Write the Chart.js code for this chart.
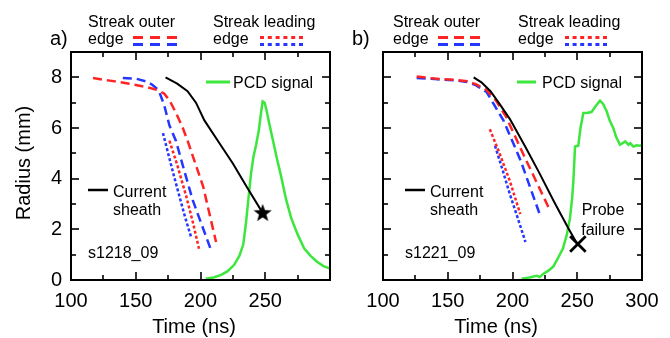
<!DOCTYPE html>
<html>
<head>
<meta charset="utf-8">
<script src="https://cdn.jsdelivr.net/npm/chart.js@4.4.0/dist/chart.umd.min.js"></script>
<style>
  body { margin: 0; background: #fff; }
  canvas { position: absolute; top: 0; }
  #panelA { left: 0; }
  #panelB { left: 335px; }
</style>
</head>
<body>
<canvas id="panelA" width="335" height="338"></canvas>
<canvas id="panelB" width="335" height="338"></canvas>
<script>
// ---- data (time in ns, radius in mm) ----
var xTicksA = [100, 150, 200, 250];
var xTicksB = [100, 150, 200, 250, 300];
var yTicks = [0, 2, 4, 6, 8];

// panel a) s1218_09
var sheathA_t = [173, 182, 190, 196.5, 203, 214, 225, 236, 248];
var sheathA_r = [8.0, 7.75, 7.45, 7.0, 6.3, 5.45, 4.6, 3.65, 2.65];
var outerRedA_t = [117, 130, 145, 158, 168, 172, 176, 181, 186, 190, 194, 202, 212];
var outerRedA_r = [7.97, 7.87, 7.75, 7.62, 7.48, 7.35, 7.1, 6.6, 6.05, 5.5, 4.9, 3.7, 1.5];
var outerBlueA_t = [140, 150, 158, 163, 166, 168.5, 172, 176, 181, 187, 194, 208];
var outerBlueA_r = [7.97, 7.95, 7.84, 7.7, 7.57, 7.38, 6.9, 6.1, 5.5, 4.4, 3.15, 1.2];
var leadRedA_t = [176, 182, 189, 194, 199];
var leadRedA_r = [5.5, 4.55, 3.3, 2.3, 1.2];
var leadBlueA_t = [171, 175, 179, 184, 188, 193];
var leadBlueA_r = [5.8, 5.0, 4.2, 3.25, 2.5, 1.65];
var pcdA_t = [204, 210, 216, 221, 226, 230, 233, 235, 237, 239, 241, 243, 245, 247, 248, 249.5, 251, 253, 256, 259, 262, 266, 270, 275, 280, 285, 290, 295, 300];
var pcdA_r = [0.05, 0.1, 0.2, 0.35, 0.6, 0.95, 1.4, 2.2, 3.2, 4.2, 4.9, 5.35, 5.9, 6.7, 7.05, 7.0, 6.7, 6.2, 5.5, 4.8, 4.15, 3.2, 2.45, 1.8, 1.25, 0.95, 0.72, 0.55, 0.45];
var starA = [248, 2.65];

// panel b) s1221_09
var sheathB_t = [170, 176, 183, 190, 198, 210, 221, 232, 243, 250];
var sheathB_r = [8.0, 7.8, 7.45, 6.95, 6.35, 5.25, 4.2, 3.1, 2.05, 1.42];
var outerRedB_t = [126, 140, 155, 165, 172, 180, 187, 195, 208, 228];
var outerRedB_r = [8.03, 7.95, 7.9, 7.85, 7.72, 7.5, 7.1, 6.45, 5.0, 2.85];
var outerBlueB_t = [126, 140, 155, 165, 172, 180, 186, 193, 206, 221];
var outerBlueB_r = [7.97, 7.93, 7.88, 7.82, 7.68, 7.42, 6.9, 6.3, 4.75, 2.6];
var leadRedB_t = [182.5, 190, 198, 206];
var leadRedB_r = [5.95, 5.0, 3.9, 2.6];
var leadBlueB_t = [186.5, 192, 198, 204, 210];
var leadBlueB_r = [5.3, 4.4, 3.38, 2.45, 1.5];
var pcdB_t = [207, 213, 218.7, 221, 224, 228, 231.5, 235, 239, 242, 244.4, 246, 247, 248.3, 250.8, 252.5, 254.7, 258, 261, 264, 267.6, 270, 272.7, 275, 277.8, 280, 283, 285, 287, 289.5, 291, 293.3, 296, 298, 300];
var pcdB_r = [0.05, 0.1, 0.17, 0.12, 0.25, 0.38, 0.53, 0.85, 1.25, 1.8, 2.44, 3.2, 3.9, 5.27, 5.3, 6.0, 6.59, 6.6, 6.63, 6.85, 7.08, 6.95, 6.66, 6.3, 6.0, 5.65, 5.34, 5.4, 5.47, 5.34, 5.4, 5.27, 5.32, 5.3, 5.32];
var crossB = [250.5, 1.42];

var RED = '#ff2424', BLUE = '#2436ff', GREEN = '#3de63d', BLACK = '#000';
var FONT = "'Liberation Sans', Arial, sans-serif";

Chart.defaults.font.family = FONT;
Chart.defaults.font.size = 20;
Chart.defaults.color = '#000';

function pts(t, r) {
  var out = [];
  for (var i = 0; i < t.length; i++) out.push({x: t[i], y: r[i]});
  return out;
}

// filled five point star for the marker
var starImg = document.createElement('canvas');
starImg.width = 20; starImg.height = 20;
(function () {
  var c = starImg.getContext('2d');
  c.beginPath();
  for (var i = 0; i < 10; i++) {
    var rad = i % 2 === 0 ? 9.5 : 3.9;
    var a = -Math.PI / 2 + i * Math.PI / 5;
    c.lineTo(10 + rad * Math.cos(a), 10.5 + rad * Math.sin(a));
  }
  c.closePath();
  c.fillStyle = '#000';
  c.fill();
})();

// frame, inward ticks and the text annotations
var panelDecor = {
  id: 'panelDecor',
  afterDraw: function (chart) {
    var ctx = chart.ctx, a = chart.chartArea;
    var xs = chart.scales.x, ys = chart.scales.y;
    var p = chart.options.plugins.panelDecor;
    ctx.save();
    ctx.strokeStyle = '#000';
    ctx.lineWidth = 1.6;
    function seg(x1, y1, x2, y2) { ctx.beginPath(); ctx.moveTo(x1, y1); ctx.lineTo(x2, y2); ctx.stroke(); }
    var t, px, len;
    for (t = xs.min + 25; t < xs.max; t += 25) {
      px = Math.round(xs.getPixelForValue(t));
      len = (t % 50 === 0) ? 8 : 5;
      seg(px, a.bottom, px, a.bottom - len);
      seg(px, a.top, px, a.top + len);
    }
    for (t = ys.min + 1; t < ys.max; t += 1) {
      px = Math.round(ys.getPixelForValue(t));
      len = (t % 2 === 0) ? 8 : 5;
      seg(a.left, px, a.left + len, px);
      seg(a.right, px, a.right - len, px);
    }
    ctx.lineWidth = 2;
    ctx.strokeRect(a.left, a.top, a.right - a.left, a.bottom - a.top);

    // legend samples
    p.lines.forEach(function (l) {
      ctx.strokeStyle = l.c;
      ctx.lineWidth = l.w;
      ctx.setLineDash(l.dash || []);
      seg(l.x1, l.y, l.x2, l.y);
    });
    ctx.setLineDash([]);

    ctx.fillStyle = '#000';
    p.texts.forEach(function (s) {
      ctx.font = s.size + 'px ' + FONT;
      ctx.textAlign = s.align || 'left';
      ctx.textBaseline = s.base || 'alphabetic';
      if (s.rot) {
        ctx.save();
        ctx.translate(s.x, s.y);
        ctx.rotate(s.rot);
        ctx.fillText(s.t, 0, 0);
        ctx.restore();
      } else {
        ctx.fillText(s.t, s.x, s.y);
      }
    });
    ctx.restore();
  }
};

function makePanel(id, d) {
  var datasets = [
    {data: pts(d.pcd[0], d.pcd[1]), borderColor: GREEN, borderWidth: 2.5, order: 6},
    {data: pts(d.leadBlue[0], d.leadBlue[1]), borderColor: BLUE, borderWidth: 2.5, borderDash: [3, 2.2], order: 5},
    {data: pts(d.leadRed[0], d.leadRed[1]), borderColor: RED, borderWidth: 2.5, borderDash: [3, 2.2], order: 4},
    {data: pts(d.outerBlue[0], d.outerBlue[1]), borderColor: BLUE, borderWidth: 2.5, borderDash: [9, 5], order: 3},
    {data: pts(d.outerRed[0], d.outerRed[1]), borderColor: RED, borderWidth: 2.5, borderDash: [9, 5], order: 2},
    {data: pts(d.sheath[0], d.sheath[1]), borderColor: BLACK, borderWidth: 2, order: 1},
    {data: [{x: d.marker[0], y: d.marker[1]}], showLine: false, pointStyle: d.markerStyle,
      pointRadius: d.markerRadius, borderColor: BLACK, backgroundColor: BLACK, pointBorderWidth: 2.8, order: 0}
  ];
  datasets.forEach(function (ds) {
    if (ds.showLine !== false) { ds.showLine = true; ds.pointRadius = 0; }
    ds.tension = 0;
  });

  return new Chart(document.getElementById(id), {
    type: 'scatter',
    data: {datasets: datasets},
    options: {
      responsive: false,
      animation: false,
      devicePixelRatio: 1,
      layout: {autoPadding: false, padding: {top: 52, right: d.padRight, left: 0, bottom: 0}},
      plugins: {
        legend: {display: false},
        tooltip: {enabled: false},
        panelDecor: {lines: d.lines, texts: d.texts}
      },
      scales: {
        x: {
          type: 'linear', min: 100, max: 300,
          grid: {display: false, drawTicks: false},
          border: {display: false},
          ticks: {padding: 9, font: {size: 20}, maxRotation: 0},
          afterBuildTicks: function (s) { s.ticks = d.xTicks.map(function (v) { return {value: v}; }); },
          afterFit: function (s) { s.height = 58; s.paddingLeft = 0; s.paddingRight = 0; }
        },
        y: {
          type: 'linear', min: 0, max: 9,
          grid: {display: false, drawTicks: false},
          border: {display: false},
          ticks: {display: d.showY, padding: 9, font: {size: 20}},
          afterBuildTicks: function (s) { s.ticks = yTicks.map(function (v) { return {value: v}; }); },
          afterFit: function (s) { s.width = d.yWidth; s.paddingTop = 0; s.paddingBottom = 0; }
        }
      }
    },
    plugins: [panelDecor]
  });
}

makePanel('panelA', {
  xTicks: xTicksA, showY: true, yWidth: 71, padRight: 5,
  sheath: [sheathA_t, sheathA_r], outerRed: [outerRedA_t, outerRedA_r], outerBlue: [outerBlueA_t, outerBlueA_r],
  leadRed: [leadRedA_t, leadRedA_r], leadBlue: [leadBlueA_t, leadBlueA_r], pcd: [pcdA_t, pcdA_r],
  marker: starA, markerStyle: starImg, markerRadius: 10,
  lines: [
    {x1: 133, x2: 177, y: 37.5, c: RED, w: 3, dash: [10, 7]},
    {x1: 133, x2: 177, y: 44.5, c: BLUE, w: 3, dash: [10, 7]},
    {x1: 260, x2: 303, y: 37.5, c: RED, w: 3, dash: [4, 3.8]},
    {x1: 260, x2: 303, y: 44.5, c: BLUE, w: 3, dash: [4, 3.8]},
    {x1: 206, x2: 230, y: 82, c: GREEN, w: 3},
    {x1: 88, x2: 108, y: 190, c: BLACK, w: 2.5}
  ],
  texts: [
    {t: 'a)', x: 50, y: 45, size: 20},
    {t: 'Streak outer', x: 88, y: 27, size: 16},
    {t: 'edge', x: 88, y: 44, size: 16},
    {t: 'Streak leading', x: 213, y: 27, size: 16},
    {t: 'edge', x: 213, y: 44, size: 16},
    {t: 'PCD signal', x: 233, y: 88, size: 16},
    {t: 'Current', x: 113, y: 197, size: 16},
    {t: 'sheath', x: 113, y: 215, size: 16},
    {t: 's1218_09', x: 88, y: 258, size: 16},
    {t: 'Time (ns)', x: 194, y: 333, size: 20, align: 'center'},
    {t: 'Radius (mm)', x: 24, y: 163, size: 20, align: 'center', base: 'middle', rot: -Math.PI / 2}
  ]
});

makePanel('panelB', {
  xTicks: xTicksB, showY: false, yWidth: 48, padRight: 28,
  sheath: [sheathB_t, sheathB_r], outerRed: [outerRedB_t, outerRedB_r], outerBlue: [outerBlueB_t, outerBlueB_r],
  leadRed: [leadRedB_t, leadRedB_r], leadBlue: [leadBlueB_t, leadBlueB_r], pcd: [pcdB_t, pcdB_r],
  marker: crossB, markerStyle: 'crossRot', markerRadius: 11,
  lines: [
    {x1: 103, x2: 145, y: 37.5, c: RED, w: 3, dash: [10, 6]},
    {x1: 103, x2: 145, y: 44.5, c: BLUE, w: 3, dash: [10, 6]},
    {x1: 230, x2: 272, y: 37.5, c: RED, w: 3, dash: [4, 3.6]},
    {x1: 230, x2: 272, y: 44.5, c: BLUE, w: 3, dash: [4, 3.6]},
    {x1: 182, x2: 201, y: 82, c: GREEN, w: 3},
    {x1: 70, x2: 90, y: 190, c: BLACK, w: 2.5}
  ],
  texts: [
    {t: 'b)', x: 17, y: 45, size: 20},
    {t: 'Streak outer', x: 58, y: 27, size: 16},
    {t: 'edge', x: 58, y: 44, size: 16},
    {t: 'Streak leading', x: 183, y: 27, size: 16},
    {t: 'edge', x: 183, y: 44, size: 16},
    {t: 'PCD signal', x: 207, y: 88, size: 16},
    {t: 'Current', x: 95, y: 197, size: 16},
    {t: 'sheath', x: 95, y: 215, size: 16},
    {t: 's1221_09', x: 70, y: 258, size: 16},
    {t: 'Probe', x: 268, y: 215, size: 16, align: 'center'},
    {t: 'failure', x: 268, y: 235, size: 16, align: 'center'},
    {t: 'Time (ns)', x: 161, y: 333, size: 20, align: 'center'}
  ]
});
</script>
</body>
</html>
